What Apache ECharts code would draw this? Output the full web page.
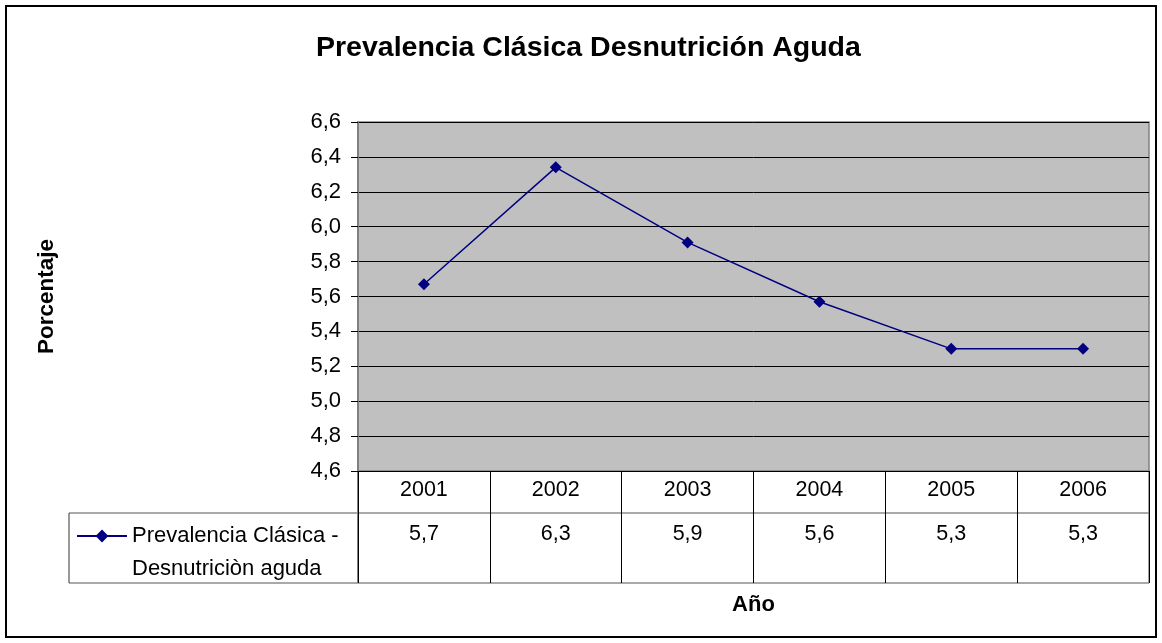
<!DOCTYPE html>
<html>
<head>
<meta charset="utf-8">
<script src="https://cdn.jsdelivr.net/npm/echarts@6/dist/echarts.min.js"></script>
<style>html,body{margin:0;padding:0;background:#fff}#c{width:1162px;height:643px}</style>
</head>
<body>
<div id="c"></div>
<script>
const years = ['2001', '2002', '2003', '2004', '2005', '2006'];
const values = [5.67, 6.34, 5.91, 5.57, 5.30, 5.30];
const seriesName = 'Prevalencia Clásica - Desnutriciòn aguda';
const legendLines = ['Prevalencia Clásica -', 'Desnutriciòn aguda'];
const yMin = 4.6, yMax = 6.6, yStep = 0.2;

const fmt = v => v.toFixed(1).replace('.', ',');
const tableLabels = values.map(fmt);

const G = { left: 358, top: 122, right: 1149, bottom: 471 };
const tableRow = 513, tableBottom = 583, legendLeft = 69;
const FONT = 'Liberation Sans, Arial, sans-serif';

const chart = echarts.init(document.getElementById('c'), null, { renderer: 'canvas' });
chart.setOption({
  animation: false,
  backgroundColor: '#fff',
  textStyle: { fontFamily: FONT, color: '#000' },
  title: {
    text: 'Prevalencia Clásica Desnutrición Aguda',
    left: 316, top: 34, padding: 0,
    textStyle: { fontFamily: FONT, fontSize: 28.5, fontWeight: 'bold', color: '#000' }
  },
  grid: {
    left: G.left, top: G.top, right: 1162 - G.right, bottom: 643 - G.bottom,
    show: true, backgroundColor: '#C0C0C0', borderColor: '#808080', borderWidth: 1.5,
    containLabel: false
  },
  legend: {
    left: 76, top: 525, padding: 0, itemWidth: 50, itemHeight: 16, itemGap: 5,
    data: [seriesName],
    formatter: () => legendLines[0],
    textStyle: { fontFamily: FONT, fontSize: 22, color: '#000' }
  },
  xAxis: [{
    type: 'category', data: years, boundaryGap: true, position: 'bottom',
    name: 'Año', nameLocation: 'middle', nameGap: 123,
    nameTextStyle: { fontFamily: FONT, fontSize: 22, fontWeight: 'bold', color: '#000' },
    axisLine: { show: true, lineStyle: { color: '#000', width: 1 } },
    axisTick: { show: true, inside: false, length: tableBottom - G.bottom, alignWithLabel: false, lineStyle: { color: '#000', width: 1 } },
    axisLabel: { fontFamily: FONT, fontSize: 21.5, color: '#000', margin: 8, lineHeight: 22 },
    splitLine: { show: false }
  }, {
    type: 'category', data: tableLabels, boundaryGap: true, position: 'bottom', offset: 0,
    axisLine: { show: false }, axisTick: { show: false },
    axisLabel: { fontFamily: FONT, fontSize: 21.5, color: '#000', margin: 52, lineHeight: 22 },
    splitLine: { show: false }
  }],
  yAxis: {
    type: 'value', min: yMin, max: yMax, interval: yStep,
    name: 'Porcentaje', nameLocation: 'middle', nameRotate: 90, nameGap: 300,
    nameTextStyle: { fontFamily: FONT, fontSize: 22.5, fontWeight: 'bold', color: '#000' },
    axisLine: { show: true, lineStyle: { color: '#808080', width: 2 } },
    axisTick: { show: true, inside: false, length: 7, lineStyle: { color: '#000' } },
    axisLabel: { fontFamily: FONT, fontSize: 22, color: '#000', margin: 17, formatter: v => fmt(v) },
    splitLine: { show: true, lineStyle: { color: '#000', width: 1 } }
  },
  series: [{
    name: seriesName, type: 'line', data: values,
    xAxisIndex: 0, yAxisIndex: 0,
    symbol: 'diamond', symbolSize: 12,
    lineStyle: { color: '#000080', width: 1.5 },
    itemStyle: { color: '#000080' },
    z: 5
  }],
  graphic: [
    { type: 'rect', shape: { x: 6, y: 6, width: 1150, height: 631 }, style: { fill: 'none', stroke: '#000', lineWidth: 2 }, silent: true },
    { type: 'line', shape: { x1: legendLeft, y1: tableRow, x2: G.right, y2: tableRow }, style: { stroke: '#555', lineWidth: 1.2 }, silent: true },
    { type: 'line', shape: { x1: legendLeft, y1: tableBottom, x2: G.right, y2: tableBottom }, style: { stroke: '#555', lineWidth: 1.2 }, silent: true },
    { type: 'line', shape: { x1: legendLeft, y1: tableRow, x2: legendLeft, y2: tableBottom }, style: { stroke: '#555', lineWidth: 1.2 }, silent: true },
    { type: 'line', shape: { x1: G.left, y1: G.bottom, x2: G.left, y2: tableBottom }, style: { stroke: '#808080', lineWidth: 2 }, silent: true },
    { type: 'line', shape: { x1: G.right, y1: G.bottom, x2: G.right, y2: tableBottom }, style: { stroke: '#808080', lineWidth: 1.5 }, silent: true },
    { type: 'text', left: 132, top: 558, silent: true,
      style: { text: legendLines[1], font: '22px ' + FONT, fill: '#000' } }
  ]
});
</script>
</body>
</html>
